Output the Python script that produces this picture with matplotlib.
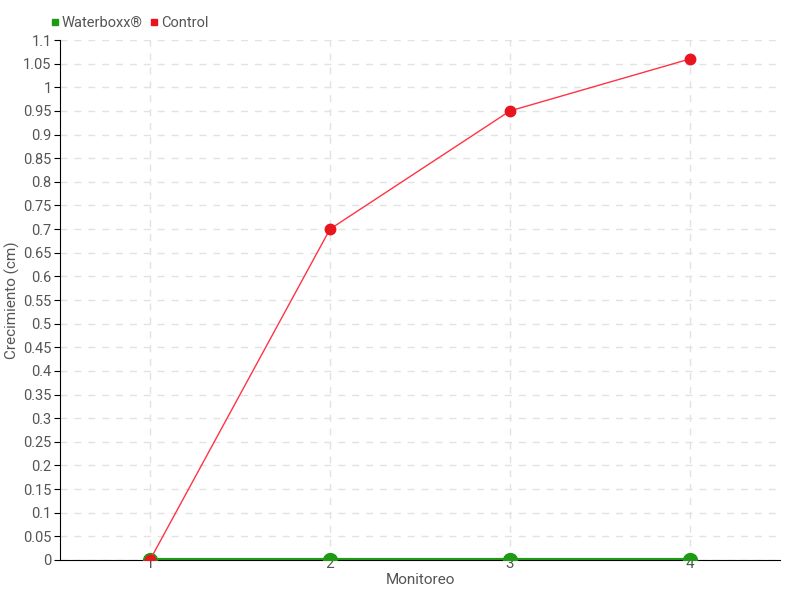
import matplotlib
matplotlib.use('Agg')
import matplotlib.pyplot as plt
import numpy as np

monitoreo = [1, 2, 3, 4]
waterboxx = [0, 0, 0, 0]
control = [0, 0.7, 0.95, 1.06]

plt.rcParams['font.family'] = ['Roboto', 'DejaVu Sans']
txt = '#555555'

fig = plt.figure(figsize=(8, 6), dpi=100)
ax = fig.add_axes([0.075, 0.0667, 0.9, 0.8666])

ax.plot(monitoreo, waterboxx, color='#1e9a14', lw=3, marker='o', ms=10,
        mfc='#1e9a14', mec='#1e9a14', zorder=3, label='Waterboxx®')
ax.plot(monitoreo, control, color='#ff3344', lw=1, marker='o', ms=7.5,
        mfc='#e8141e', mec='#e8141e', zorder=4, label='Control')

ax.set_xlim(0.5, 4.5)
ax.set_ylim(0, 1.1)
ax.set_xticks(monitoreo)
ax.set_xticklabels([str(m) for m in monitoreo])
yt = np.round(np.arange(0, 1.1001, 0.05), 2)
ax.set_yticks(yt)
ax.set_yticklabels(['%g' % v for v in yt])

ax.grid(True, color='#e2e2e2', linestyle=(0, (5, 5)), lw=1)
ax.set_axisbelow(True)
for s in ['top', 'right']:
    ax.spines[s].set_visible(False)
ax.spines['left'].set_color('black')
ax.spines['bottom'].set_color('black')
ax.tick_params(axis='y', length=4, colors='black', labelcolor=txt, labelsize=10.5, pad=2)
ax.tick_params(axis='x', length=0, labelcolor=txt, labelsize=11, pad=-2)

ax.set_xlabel('Monitoreo', color=txt, fontsize=11, labelpad=1)
ax.set_ylabel('Crecimiento (cm)', color=txt, fontsize=11)
ax.yaxis.set_label_coords(-0.055, 0.5)

fig.legend(handles=[
    plt.Line2D([], [], ls='none', marker='s', ms=5, color='#1e9a14', label='Waterboxx®'),
    plt.Line2D([], [], ls='none', marker='s', ms=5, color='#e8141e', label='Control')],
    loc='upper left', bbox_to_anchor=(0.045, 0.995), ncol=2, frameon=False,
    handletextpad=0.05, columnspacing=0.4, handlelength=0.8,
    prop={'size': 10.5}, labelcolor=txt)

fig.savefig('out.png', dpi=100)
